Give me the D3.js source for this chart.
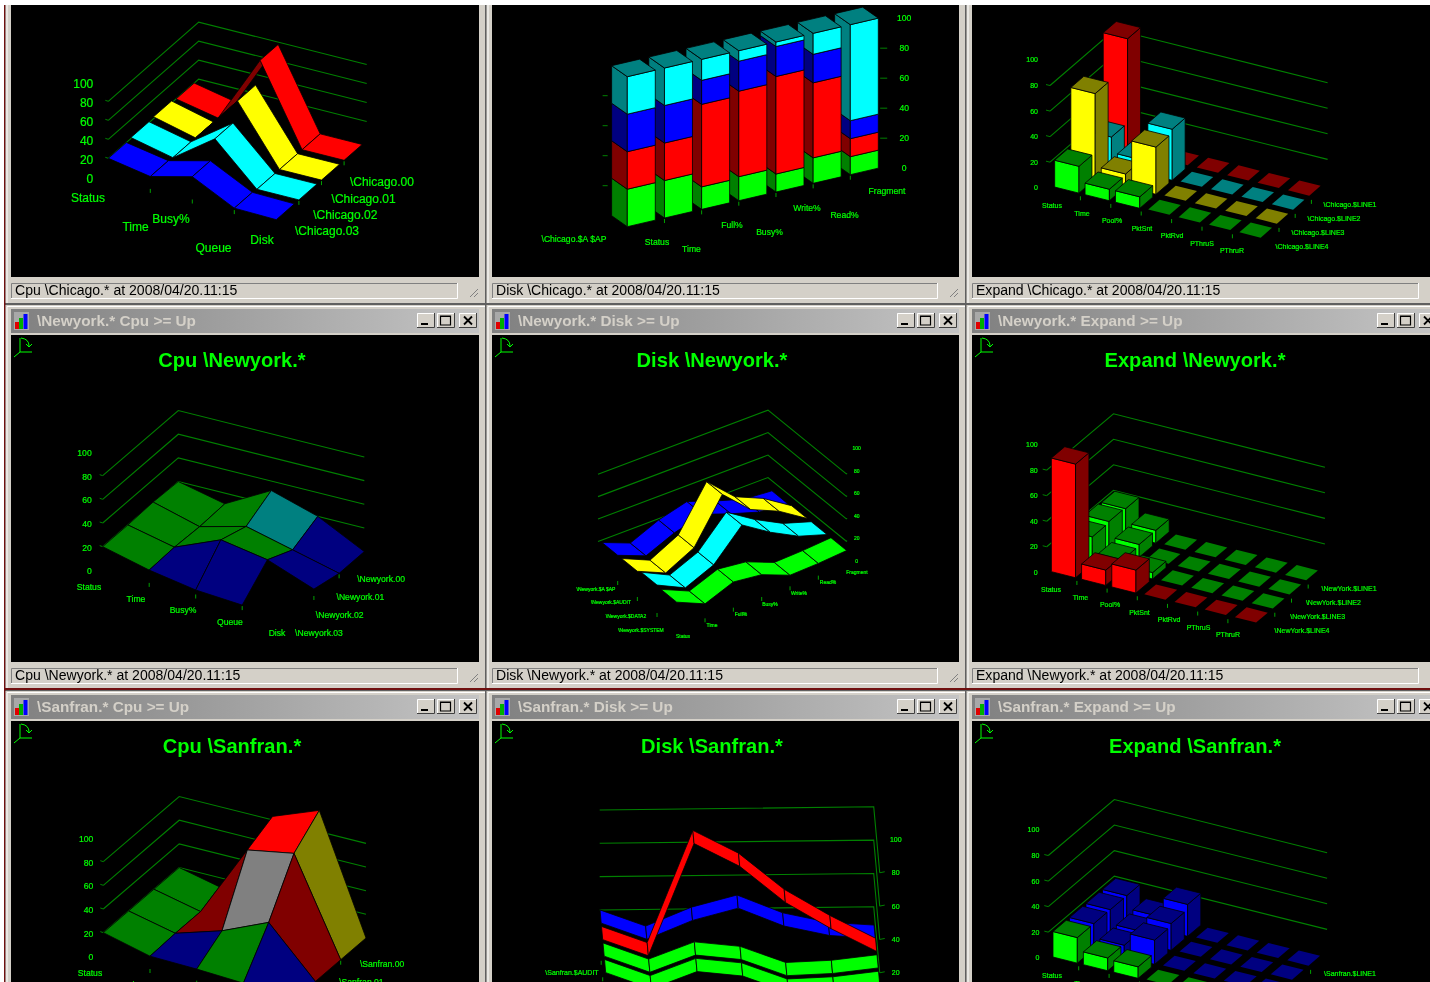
<!DOCTYPE html>
<html lang="en">
<head>
<meta charset="UTF-8">
<title>Cpu Disk Expand</title>
<style>
  html, body { margin: 0; padding: 0; background: #fff; overflow: hidden; }
  svg { display: block; filter: blur(0.35px); }
  text { font-family: "Liberation Sans", Arial, sans-serif; }
</style>
</head>
<body>
<script src="https://d3js.org/d3.v7.min.js"></script>
<script>
// categories
const cpuCats = ['Status', 'Time', 'Busy%', 'Queue', 'Disk'];
const diskCats = ['Status', 'Time', 'Full%', 'Busy%', 'Write%', 'Read%', 'Fragment'];
const expandCats = ['Status', 'Time', 'Pool%', 'PktSnt', 'PktRvd', 'PThruS', 'PThruR'];
const valueTicks = [0, 20, 40, 60, 80, 100];
const gridValues = [20, 40, 60, 80];

// series names, index 0 is the front row
const cpuChicagoSeries = ['\\Chicago.03', '\\Chicago.02', '\\Chicago.01', '\\Chicago.00'];
const cpuNewyorkSeries = ['\\Newyork.03', '\\Newyork.02', '\\Newyork.01', '\\Newyork.00'];
const cpuSanfranSeries = ['\\Sanfran.03', '\\Sanfran.02', '\\Sanfran.01', '\\Sanfran.00'];
const diskNewyorkSeries = ['\\Newyork.$SYSTEM', '\\Newyork.$DATA2', '\\Newyork.$AUDIT', '\\Newyork.$A $AP'];
const diskSanfranSeries = ['\\Sanfran.$SYSTEM', '\\Sanfran.$DATA2', '\\Sanfran.$AUDIT', null];
const expandChicagoSeries = ['\\Chicago.$LINE4', '\\Chicago.$LINE3', '\\Chicago.$LINE2', '\\Chicago.$LINE1'];
const expandNewyorkSeries = ['\\NewYork.$LINE4', '\\NewYork.$LINE3', '\\NewYork.$LINE2', '\\NewYork.$LINE1'];
const expandSanfranSeries = ['\\Sanfran.$LINE4', '\\Sanfran.$LINE3', '\\Sanfran.$LINE2', '\\Sanfran.$LINE1'];

// Cpu \Chicago ribbons
const cpuChicagoValues = [
  [20, 12, 23, 1, 0],
  [21, 11, 42, 0, 0],
  [22, 11, 61, 0, 0],
  [20, 11, 83, 0, 0]
];
const cpuChicagoColors = ['blue', 'cyan', 'yellow', 'red'];

// Cpu \Newyork and \Sanfran surfaces, null = no reading
const cpuNewyorkValues = [
  [20, 10, 3, 0, null],
  [20, 11, 27, 20, 5],
  [21, 10, 20, 10, 0],
  [20, 11, 32, 20, 0]
];
const cpuNewyorkCells = [
  ['dkGreen', 'navy', 'navy', null],
  ['dkGreen', 'dkGreen', 'dkGreen', 'navy'],
  ['dkGreen', 'dkGreen', 'teal', 'navy']
];
const cpuSanfranValues = [
  [20, 10, 9, 7, 0],
  [20, 11, 23, 40, 0],
  [20, 11, 73, 80, 0],
  [20, 11, 83, 98, 0]
];
const cpuSanfranCells = [
  ['dkGreen', 'navy', 'dkGreen', 'navy'],
  ['dkGreen', 'dkRed', 'grey', 'dkRed'],
  ['dkGreen', 'black', 'red', 'olive']
];

// Disk \Chicago stacked columns, one array per layer
const diskChicagoGreen = [25, 25, 15, 16, 12, 17, 12];
const diskChicagoRed = [25, 25, 55, 57, 65, 50, 12];
const diskChicagoBlue = [25, 25, 16, 20, 20, 19, 12];
const diskChicagoCyan = [25, 25, 14, 7, 3, 14, 64];

// Disk \Newyork and \Sanfran ribbons
const diskNewyorkValues = [
  [23, 12, 22, 19, 9, 10, 12],
  [24, 12, 23, 49, 33, 20, 12],
  [22, 11, 24, 62, 39, 28, 12],
  [22, 12, 23, 30, 21, 13, 11]
];
const diskNewyorkColors = ['green', 'cyan', 'yellow', 'blue'];
const diskSanfranValues = [
  [22, 12, 22, 19, 9, 10, 13],
  [22, 12, 22, 19, 9, 10, 13],
  [22, 12, 79, 65, 43, 27, 13],
  [22, 12, 23, 30, 19, 13, 11]
];
const diskSanfranColors = ['green', 'green', 'red', 'blue'];

// Expand bars
const expandChicagoValues = [
  [21, 9, 9, 0, 0, 0, 0],
  [67, 10, 37, 0, 0, 0, 0],
  [22, 10, 40, 0, 0, 0, 0],
  [88, 0, 0, 0, 0, 0, 0]
];
const expandChicagoColors = ['green', 'yellow', 'cyan', 'red'];
const expandNewyorkValues = [
  [89, 12, 18, 0, 0, 0, 0],
  [21, 9, 5, 0, 0, 0, 0],
  [22, 10, 0, 0, 0, 0, 0],
  [21, 10, 0, 0, 0, 0, 0]
];
const expandNewyorkColors = ['red', 'green', 'green', 'green'];
const expandSanfranValues = [
  [20, 10, 9, 0, 0, 0, 0],
  [20, 9, 19, 0, 0, 0, 0],
  [20, 9, 21, 0, 0, 0, 0],
  [20, 10, 25, 0, 0, 0, 0]
];
const expandSanfranColors = ['green', 'blue', 'blue', 'blue'];

const bright = { green: '#00ff00', red: '#ff0000', blue: '#0000ff', cyan: '#00ffff', yellow: '#ffff00' };
const shade = { green: '#008000', red: '#800000', blue: '#000080', cyan: '#008080', yellow: '#808000' };
const cellColor = { dkGreen: '#008000', navy: '#000080', teal: '#008080', dkRed: '#800000', grey: '#808080', red: '#ff0000', olive: '#808000', black: '#000000' };

// window chrome layout
const cols = [
  { l: 11, r: 479, status: 458, titleX: 232 },
  { l: 492, r: 959, status: 938, titleX: 712 },
  { l: 972, r: 1440, status: 1419, titleX: 1195 }
];
const rows = [
  { top: 5, bottom: 277, statusY: 283 },
  { top: 335, bottom: 662, statusY: 668 },
  { top: 721, bottom: 1000, statusY: 1010 }
];

const W = 1430, H = 982;
const svg = d3.select('body').append('svg').attr('width', W).attr('height', H);
const defs = svg.append('defs');
const grad = defs.append('linearGradient').attr('id', 'titlebar');
grad.append('stop').attr('offset', '0%').attr('stop-color', '#808080');
grad.append('stop').attr('offset', '100%').attr('stop-color', '#c4c4c4');

svg.append('rect').attr('width', W).attr('height', H).attr('fill', '#fff');
svg.append('rect').attr('x', 4).attr('width', W).attr('height', H).attr('fill', '#606060');
svg.append('rect').attr('x', 4).attr('width', 1.5).attr('height', H).attr('fill', '#701010');
svg.append('rect').attr('x', 4).attr('y', 688).attr('width', W).attr('height', 2).attr('fill', '#701010');

// one projection per chart: category, depth and value each go through a scale
function projector(v) {
  const catX = d3.scaleLinear([0, 1], [0, v.ex[0]]), catY = d3.scaleLinear([0, 1], [0, v.ex[1]]);
  const depX = d3.scaleLinear([0, 1], [0, v.ez[0]]), depY = d3.scaleLinear([0, 1], [0, v.ez[1]]);
  const valY = d3.scaleLinear([0, 100], [0, -v.h]);
  return (i, s, val) => [v.x + catX(i) + depX(s), v.y + catY(i) + depY(s) + valY(val)];
}
const poly = pts => d3.line()(pts) + 'Z';

function drawWindow(c, r, name, statusText, title) {
  const g = svg.append('g');
  const wx = c.l - 5.5, wr = c.r + 6;
  const wy = r.top === 5 ? 0 : r.top - 30;
  g.append('rect').attr('x', wx).attr('y', wy).attr('width', wr - wx).attr('height', r.statusY + 20 - wy).attr('fill', '#d4d0c8');
  g.append('path').attr('d', `M${wx + 1.5},${r.statusY + 20}V${wy + 1.5}H${wr}`).attr('fill', 'none').attr('stroke', '#fff');
  g.append('rect').attr('x', c.l).attr('y', r.top).attr('width', c.r - c.l).attr('height', r.bottom - r.top).attr('fill', '#000');

  // status bar
  g.append('path').attr('d', `M${c.l + .5},${r.statusY + 15}V${r.statusY + .5}H${c.status}`).attr('fill', 'none').attr('stroke', '#808080');
  g.append('path').attr('d', `M${c.l},${r.statusY + 15.5}H${c.status - .5}V${r.statusY}`).attr('fill', 'none').attr('stroke', '#fff');
  g.append('text').attr('x', c.l + 4).attr('y', r.statusY + 12).attr('font-size', 14.05).attr('fill', '#000').text(statusText);
  if (c.r < 1000) {
    [0, 4, 8].forEach(d => g.append('line').attr('x1', c.r - 1).attr('y1', r.statusY + 6 + d)
      .attr('x2', c.r - 9 + d).attr('y2', r.statusY + 14).attr('stroke', '#808080'));
  }
  if (!name) return;

  // title bar with its icon and buttons
  const ty = r.top - 26;
  g.append('rect').attr('x', c.l).attr('y', ty).attr('width', Math.min(c.r, W) - c.l).attr('height', 24).attr('fill', 'url(#titlebar)');
  g.append('rect').attr('x', c.l + 3).attr('y', ty + 3).attr('width', 15).attr('height', 18).attr('fill', '#a8a8a8');
  [['#e00000', 4, 7, 4], ['#00b000', 8, 11, 4], ['#0000ff', 12.5, 15, 4]].forEach(b => {
    g.append('rect').attr('x', c.l + b[1]).attr('y', ty + 20 - b[2]).attr('width', b[3]).attr('height', b[2]).attr('fill', b[0]);
  });
  g.append('text').attr('x', c.l + 26).attr('y', ty + 17).attr('font-size', 15.3).attr('font-weight', 'bold').attr('fill', '#d4d0c8').text(name);
  const bx = c.r < 1000 ? c.r - 62 : 1377;
  [0, 20, 42].forEach((d, k) => {
    const x = bx + d, y = ty + 4, w = 18, h = 15;
    g.append('rect').attr('x', x).attr('y', y).attr('width', w).attr('height', h).attr('fill', '#d4d0c8');
    g.append('path').attr('d', `M${x + .5},${y + h}V${y + .5}H${x + w}`).attr('fill', 'none').attr('stroke', '#fff');
    g.append('path').attr('d', `M${x},${y + h - .5}H${x + w - .5}V${y}`).attr('fill', 'none').attr('stroke', '#404040');
    if (k === 0) g.append('rect').attr('x', x + 4).attr('y', y + 10).attr('width', 7).attr('height', 2).attr('fill', '#000');
    if (k === 1) g.append('path').attr('d', `M${x + 3.5},${y + 3}h10v9h-10zM${x + 3.5},${y + 3.5}h10`).attr('fill', 'none').attr('stroke', '#000').attr('stroke-width', 1.2);
    if (k === 2) g.append('path').attr('d', `M${x + 5},${y + 3.5}l8,8M${x + 13},${y + 3.5}l-8,8`).attr('stroke', '#000').attr('stroke-width', 1.8);
  });

  // rotate widget
  const ax = c.l + 9, ay = r.top + 17;
  g.append('path').attr('d', `M${ax},${ay - 14}V${ay}H${ax + 12}M${ax},${ay}l-6,5M${ax + 1},${ay - 14}Q${ax + 9},${ay - 13} ${ax + 9},${ay - 6}M${ax + 6},${ay - 8}l3,3l3,-3`)
    .attr('fill', 'none').attr('stroke', '#00ff00');
  g.append('text').attr('x', c.titleX).attr('y', r.top + 32).attr('text-anchor', 'middle').attr('font-size', 20.1)
    .attr('font-weight', 'bold').attr('fill', '#00ff00').text(title);
}

// labels, ticks and wall lines shared by the charts
function drawFrame(g, cfg, p) {
  const green = '#00a000';
  if (cfg.wall) {
    gridValues.forEach(v => {
      g.append('path').attr('d', d3.line()(cfg.wall.map(w => p(w[0], w[1], v))))
        .attr('fill', 'none').attr('stroke', '#008000').attr('stroke-width', 1.1);
      const e = p(cfg.wall[cfg.tickEnd][0], cfg.wall[cfg.tickEnd][1], v);
      g.append('line').attr('x1', e[0]).attr('y1', e[1]).attr('x2', e[0] + cfg.tickDx).attr('y2', e[1] - 1).attr('stroke', '#008000');
    });
  }
  d3.range(1, cfg.X).forEach(i => {
    const q = p(i, 0, 0);
    g.append('line').attr('x1', q[0]).attr('y1', q[1] + 1).attr('x2', q[0]).attr('y2', q[1] + 5).attr('stroke', green);
  });
  d3.range(1, cfg.S).forEach(s => {
    const q = p(cfg.serTickAt, s, 0);
    g.append('line').attr('x1', q[0]).attr('y1', q[1] + 1).attr('x2', q[0]).attr('y2', q[1] + 5).attr('stroke', green);
  });
  const label = (x, y, t, a) => g.append('text').attr('x', x).attr('y', y).attr('dy', '.35em').attr('text-anchor', a || 'middle')
    .attr('font-size', cfg.font).attr('fill', '#00ff00').attr('stroke', '#00ff00').attr('stroke-width', .22).text(t);
  valueTicks.forEach(v => {
    const q = p(cfg.valAt[0], cfg.valAt[1], v);
    label(q[0] + cfg.valAt[2], q[1] + cfg.valAt[3], v, cfg.valAt[4]);
  });
  cfg.cats.forEach((t, i) => {
    const a = cfg.catAt;
    label(a[0] + a[2] * i + (cfg.catNudge ? cfg.catNudge[i] : 0), a[1] + a[3] * i + (i % 2 ? a[4] : 0), t);
  });
  cfg.series.forEach((t, s) => {
    const a = cfg.serAt;
    if (t) label(a[0] + a[2] * s, a[1] + a[3] * s, t);
  });
}

function drawRibbons(g, cfg, p) {
  const flat = cross(p(1, 0, 0), p(0, 0, 0), p(0, 1, 0));
  const order = d3.range(cfg.values.length).reverse();
  order.forEach(s => {
    const row = cfg.values[s], name = cfg.colors[s];
    d3.range(row.length - 1).forEach(i => {
      const a = p(i, s, row[i]), b = p(i + 1, s, row[i + 1]);
      const c = p(i + 1, s + .8, row[i + 1]), d = p(i, s + .8, row[i]);
      const under = cross(b, a, d) * flat < 0;
      g.append('path').attr('d', poly([a, b, c, d])).attr('fill', under ? shade[name] : bright[name])
        .attr('stroke', '#000').attr('stroke-width', .8);
    });
  });
}
function cross(b, a, d) {
  return (b[0] - a[0]) * (d[1] - a[1]) - (b[1] - a[1]) * (d[0] - a[0]);
}

function drawSurface(g, cfg, p) {
  d3.range(cfg.cells.length).reverse().forEach(s => {
    cfg.cells[s].forEach((name, i) => {
      if (!name) return;
      const quad = [p(i, s, cfg.values[s][i]), p(i + 1, s, cfg.values[s][i + 1]),
        p(i + 1, s + 1, cfg.values[s + 1][i + 1]), p(i, s + 1, cfg.values[s + 1][i])];
      g.append('path').attr('d', poly(quad)).attr('fill', cellColor[name]).attr('stroke', '#000').attr('stroke-width', .8);
    });
  });
}

function drawBars(g, cfg, p) {
  d3.range(cfg.values.length).reverse().forEach(s => {
    cfg.values[s].forEach((v, i) => {
      const name = cfg.colors[s];
      // a bar at zero is only a floor tile, a little smaller than a standing bar
      const inset = v > 0 ? .1 : .15;
      const i0 = i + inset, i1 = i + 1 - inset, s0 = s + inset, s1 = s + 1 - inset;
      const top = [p(i0, s0, v), p(i1, s0, v), p(i1, s1, v), p(i0, s1, v)];
      if (v > 0) {
        g.append('path').attr('d', poly([p(i0, s0, 0), p(i1, s0, 0), p(i1, s0, v), p(i0, s0, v)]))
          .attr('fill', bright[name]).attr('stroke', '#000').attr('stroke-width', .8);
        g.append('path').attr('d', poly([p(i1, s0, 0), p(i1, s1, 0), p(i1, s1, v), p(i1, s0, v)]))
          .attr('fill', shade[name]).attr('stroke', '#000').attr('stroke-width', .8);
      }
      g.append('path').attr('d', poly(top)).attr('fill', shade[name]).attr('stroke', '#000').attr('stroke-width', v > 0 ? .8 : 0);
    });
  });
}

function drawStack(g, cfg, p) {
  const layers = cfg.layers;
  gridValues.forEach(v => {
    const l = p(0, 1, v), r = p(cfg.X - .25, 0, v);
    g.append('line').attr('x1', l[0] - 9).attr('y1', l[1]).attr('x2', l[0] - 4).attr('y2', l[1]).attr('stroke', '#008000');
    g.append('line').attr('x1', r[0] + 2).attr('y1', r[1]).attr('x2', r[0] + 9).attr('y2', r[1]).attr('stroke', '#008000');
  });
  d3.range(cfg.X - 1, -1, -1).forEach(i => {
    const w = i + .753;
    const tops = d3.cumsum(layers, l => l.values[i]);
    layers.forEach((l, k) => {
      const v0 = k ? tops[k - 1] : 0, v1 = tops[k];
      g.append('path').attr('d', poly([p(i, 1, v0), p(i, 0, v0), p(i, 0, v1), p(i, 1, v1)]))
        .attr('fill', shade[l.color]).attr('stroke', '#000').attr('stroke-width', .8);
      g.append('path').attr('d', poly([p(i, 0, v0), p(w, 0, v0), p(w, 0, v1), p(i, 0, v1)]))
        .attr('fill', bright[l.color]).attr('stroke', '#000').attr('stroke-width', .8);
    });
    const t = tops[layers.length - 1];
    g.append('path').attr('d', poly([p(i, 0, t), p(w, 0, t), p(w, 1, t), p(i, 1, t)]))
      .attr('fill', shade[layers[layers.length - 1].color]).attr('stroke', '#000').attr('stroke-width', .8);
  });
}

const draw = { ribbon: drawRibbons, surface: drawSurface, bars: drawBars, stack: drawStack };

const charts = [
  { col: 0, row: 0, kind: 'ribbon', status: 'Cpu \\Chicago.* at 2008/04/20.11:15',
    values: cpuChicagoValues, colors: cpuChicagoColors, cats: cpuCats, series: cpuChicagoSeries,
    view: { x: 108.3, y: 177.3, ex: [42, 10.6], ez: [22.6, -19.8], h: 95 }, X: 4, S: 4, serTickAt: 4,
    wall: [[0, 0], [0, 4], [4, 4]], tickEnd: 0, tickDx: -3, font: 12,
    valAt: [0, 0, -15, 1, 'end'], catAt: [88, 198, 43.5, 10.5, 18], catNudge: [0, 4, -4, -5, 0], serAt: [327, 231, 18.3, -16.3] },
  { col: 1, row: 0, kind: 'stack', status: 'Disk \\Chicago.* at 2008/04/20.11:15',
    layers: [{ color: 'green', values: diskChicagoGreen }, { color: 'red', values: diskChicagoRed },
      { color: 'blue', values: diskChicagoBlue }, { color: 'cyan', values: diskChicagoCyan }],
    cats: diskCats, series: ['\\Chicago.$A $AP'],
    view: { x: 627.3, y: 226.7, ex: [37.17, -8.67], ez: [-15.67, -11], h: 150 }, X: 7, S: 0, serTickAt: 0, font: 8.6,
    valAt: [6.75, 0, 26, 0, 'middle'], catAt: [657, 242, 37.5, -8.5, 15], catNudge: [0, -3, 0, 0, 0, 0, 5], serAt: [574, 239, 0, 0] },
  { col: 2, row: 0, kind: 'bars', status: 'Expand \\Chicago.* at 2008/04/20.11:15',
    values: expandChicagoValues, colors: expandChicagoColors, cats: expandCats, series: expandChicagoSeries,
    view: { x: 1050, y: 187.7, ex: [30.4, 7.6], ez: [16.2, -14], h: 127.7 }, X: 7, S: 4, serTickAt: 7,
    wall: [[0, 0], [0, 4], [7, 4]], tickEnd: 0, tickDx: -4, font: 7,
    valAt: [0, 0, -12, 0, 'end'], catAt: [1052, 206, 30, 7.5, 0], serAt: [1302, 247, 16, -14] },
  { col: 0, row: 1, kind: 'surface', name: '\\Newyork.* Cpu >= Up', title: 'Cpu \\Newyork.*', status: 'Cpu \\Newyork.* at 2008/04/20.11:15',
    values: cpuNewyorkValues, cells: cpuNewyorkCells, cats: cpuCats, series: cpuNewyorkSeries,
    view: { x: 102.7, y: 570.3, ex: [46.5, 11.6], ez: [25.2, -21.7], h: 118.3 }, X: 4, S: 3, serTickAt: 4,
    wall: [[0, 0], [0, 3], [4, 3]], tickEnd: 0, tickDx: -3, font: 8.6,
    valAt: [0, 0, -11, 1, 'end'], catAt: [89, 587, 47, 11.5, 0], serAt: [319, 633, 20.7, -18] },
  { col: 1, row: 1, kind: 'ribbon', name: '\\Newyork.* Disk >= Up', title: 'Disk \\Newyork.*', status: 'Disk \\Newyork.* at 2008/04/20.11:15',
    values: diskNewyorkValues, colors: diskNewyorkColors, cats: diskCats, series: diskNewyorkSeries,
    view: { x: 676.7, y: 628, ex: [28.33, -10.67], ez: [-19.67, -16], h: 112.3 }, X: 6, S: 4, serTickAt: 0,
    wall: [[0, 4], [6, 4], [6, 0]], tickEnd: 2, tickDx: 0, font: 5,
    valAt: [6, 0, 10, -3, 'middle'], catAt: [683, 636, 29, -10.7, 0], serAt: [641, 630, -15, -13.7] },
  { col: 2, row: 1, kind: 'bars', name: '\\Newyork.* Expand >= Up', title: 'Expand \\Newyork.*', status: 'Expand \\Newyork.* at 2008/04/20.11:15',
    values: expandNewyorkValues, colors: expandNewyorkColors, cats: expandCats, series: expandNewyorkSeries,
    view: { x: 1046.7, y: 572.3, ex: [30.2, 7.65], ez: [16.7, -14.1], h: 127.7 }, X: 7, S: 4, serTickAt: 7,
    wall: [[0, 0], [0, 4], [7, 4]], tickEnd: 0, tickDx: -4, font: 7,
    valAt: [0, 0, -9, 0, 'end'], catAt: [1051, 590, 29.5, 7.5, 0], serAt: [1302, 631, 15.7, -14] },
  { col: 0, row: 2, kind: 'surface', name: '\\Sanfran.* Cpu >= Up', title: 'Cpu \\Sanfran.*', status: '',
    values: cpuSanfranValues, cells: cpuSanfranCells, cats: cpuCats, series: cpuSanfranSeries,
    view: { x: 103.3, y: 956.3, ex: [46.7, 11.7], ez: [25.3, -21.7], h: 118.3 }, X: 4, S: 3, serTickAt: 4,
    wall: [[0, 0], [0, 3], [4, 3]], tickEnd: 0, tickDx: -3, font: 8.6,
    valAt: [0, 0, -10, 1, 'end'], catAt: [90, 973, 47, 11.5, 0], serAt: [320, 1018, 20.7, -18] },
  { col: 1, row: 2, kind: 'ribbon', name: '\\Sanfran.* Disk >= Up', title: 'Disk \\Sanfran.*', status: '',
    values: diskSanfranValues, colors: diskSanfranColors, cats: diskCats, series: diskSanfranSeries,
    view: { x: 605.7, y: 1009.3, ex: [45.67, -.53], ez: [-1.5, -16.5], h: 166.7 }, X: 6, S: 4, serTickAt: 0,
    wall: [[0, 4], [6, 4], [6, 0]], tickEnd: 2, tickDx: 5, font: 7,
    valAt: [6, 0, 16, 0, 'middle'], catAt: [640, 1040, 45, 0, 0], serAt: [572, 1006, 0, -16.5] },
  { col: 2, row: 2, kind: 'bars', name: '\\Sanfran.* Expand >= Up', title: 'Expand \\Sanfran.*', status: '',
    values: expandSanfranValues, colors: expandSanfranColors, cats: expandCats, series: expandSanfranSeries,
    view: { x: 1048.3, y: 957.7, ex: [30.4, 7.6], ez: [16.5, -14], h: 127.7 }, X: 7, S: 4, serTickAt: 7,
    wall: [[0, 0], [0, 4], [7, 4]], tickEnd: 0, tickDx: -4, font: 7,
    valAt: [0, 0, -9, 0, 'end'], catAt: [1052, 976, 30, 7.5, 0], serAt: [1302, 1016, 16, -14] }
];

charts.forEach((cfg, n) => {
  const c = cols[cfg.col], r = rows[cfg.row];
  drawWindow(c, r, cfg.name, cfg.status, cfg.title);
  defs.append('clipPath').attr('id', 'clip' + n).append('rect')
    .attr('x', c.l).attr('y', r.top).attr('width', c.r - c.l).attr('height', r.bottom - r.top);
  const g = svg.append('g').attr('clip-path', `url(#clip${n})`);
  const p = projector(cfg.view);
  drawFrame(g, cfg, p);
  draw[cfg.kind](g, cfg, p);
});

svg.append('rect').attr('width', W).attr('height', 5).attr('fill', '#fff');
</script>
</body>
</html>
